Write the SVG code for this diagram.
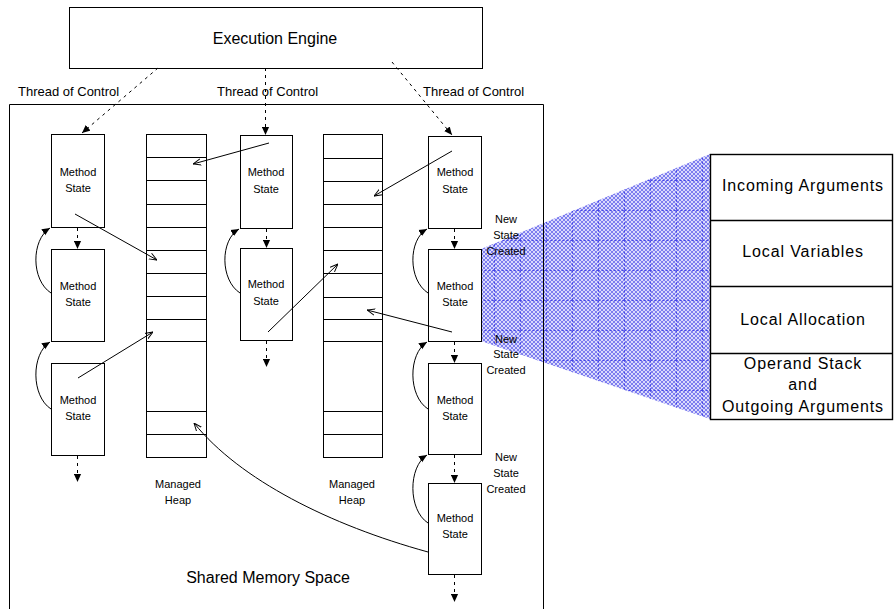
<svg xmlns="http://www.w3.org/2000/svg" width="894" height="609" viewBox="0 0 894 609">
<style>
.box{fill:#fff;stroke:#000;stroke-width:1}
.frame{fill:none;stroke:#000;stroke-width:1}
.t{font-family:"Liberation Sans",Arial,sans-serif;fill:#000}
.s11{font-size:11px}
.s13{font-size:13px}
.s16{font-size:16px}
.big{font-size:16px;letter-spacing:0.9px}
.dash{fill:none;stroke:#000;stroke-width:1;stroke-dasharray:3,4;marker-end:url(#fa)}
.solid{fill:none;stroke:#000;stroke-width:1;marker-end:url(#oa)}
.curve{fill:none;stroke:#000;stroke-width:1;marker-end:url(#fa)}
</style>
<defs>
<marker id="fa" viewBox="0 0 10 10" refX="10" refY="5" markerWidth="8" markerHeight="8" markerUnits="userSpaceOnUse" orient="auto"><path d="M0,0.5 L10,5 L0,9.5 z" fill="#000"/></marker>
<marker id="oa" viewBox="0 0 10 10" refX="10" refY="5" markerWidth="8" markerHeight="8" markerUnits="userSpaceOnUse" orient="auto"><path d="M0,1 L10,5 L0,9" fill="none" stroke="#000" stroke-width="1.2"/></marker>
<pattern id="hatch" width="4" height="4" patternUnits="userSpaceOnUse"><rect width="4" height="4" fill="#dadafc"/><path d="M0,0 L4,4 M4,0 L0,4" stroke="#4a4ae8" stroke-width="0.65"/></pattern>
<pattern id="grid" width="26" height="30" patternUnits="userSpaceOnUse"><path d="M0,0.5 H26 M0.5,0 V30" stroke="#1e1ee0" stroke-width="1" stroke-dasharray="2,2" fill="none"/></pattern>
</defs>
<rect width="894" height="609" fill="#fff"/>

<g id="zoom-wedge">
<polygon points="481,249 710,154 710,419 481,341" fill="url(#hatch)"/>
<polygon points="481,249 710,154 710,419 481,341" fill="url(#grid)" opacity="0.6"/>
</g>

<g id="shared-memory">
<path class="frame" d="M9.5,612 V104.5 H543.5 V612"/>
<text class="t s16" x="268" y="583" text-anchor="middle">Shared Memory Space</text>
</g>

<g id="execution-engine">
<rect class="box" x="69.5" y="7.5" width="413" height="61"/>
<text class="t s16" x="275" y="44" text-anchor="middle">Execution Engine</text>
</g>

<g id="thread-labels">
<text class="t s13" x="18" y="96">Thread of Control</text>
<text class="t s13" x="217" y="96">Thread of Control</text>
<text class="t s13" x="423" y="96">Thread of Control</text>
</g>

<g id="ms-l1"><rect class="box" x="51.5" y="134.5" width="53" height="93"/><text class="t s11" text-anchor="middle" x="78" y="176">Method</text><text class="t s11" text-anchor="middle" x="78" y="192">State</text></g>
<g id="ms-l2"><rect class="box" x="51.5" y="249.5" width="53" height="92"/><text class="t s11" text-anchor="middle" x="78" y="290">Method</text><text class="t s11" text-anchor="middle" x="78" y="306">State</text></g>
<g id="ms-l3"><rect class="box" x="51.5" y="363.5" width="53" height="92"/><text class="t s11" text-anchor="middle" x="78" y="404">Method</text><text class="t s11" text-anchor="middle" x="78" y="420">State</text></g>

<g id="ms-m1"><rect class="box" x="240.5" y="135.5" width="52" height="93"/><text class="t s11" text-anchor="middle" x="266" y="176">Method</text><text class="t s11" text-anchor="middle" x="266" y="193">State</text></g>
<g id="ms-m2"><rect class="box" x="240.5" y="248.5" width="52" height="92"/><text class="t s11" text-anchor="middle" x="266" y="288">Method</text><text class="t s11" text-anchor="middle" x="266" y="305">State</text></g>

<g id="ms-r1"><rect class="box" x="428.5" y="136.5" width="53" height="92"/><text class="t s11" text-anchor="middle" x="455" y="176">Method</text><text class="t s11" text-anchor="middle" x="455" y="193">State</text></g>
<g id="ms-r2"><rect class="box" x="428.5" y="249.5" width="53" height="92"/><text class="t s11" text-anchor="middle" x="455" y="290">Method</text><text class="t s11" text-anchor="middle" x="455" y="306">State</text></g>
<g id="ms-r3"><rect class="box" x="428.5" y="363.5" width="53" height="91"/><text class="t s11" text-anchor="middle" x="455" y="404">Method</text><text class="t s11" text-anchor="middle" x="455" y="420">State</text></g>
<g id="ms-r4"><rect class="box" x="428.5" y="483.5" width="53" height="91"/><text class="t s11" text-anchor="middle" x="455" y="522">Method</text><text class="t s11" text-anchor="middle" x="455" y="538">State</text></g>

<g id="heap-1">
<rect class="box" x="146.5" y="134.5" width="60" height="323"/>
<path class="frame" d="M146,157.5 H207 M146,180.5 H207 M146,204.5 H207 M146,227.5 H207 M146,250.5 H207 M146,273.5 H207 M146,296.5 H207 M146,319.5 H207 M146,341.5 H207 M146,411.5 H207 M146,434.5 H207"/>
<text class="t s11" text-anchor="middle" x="178" y="488">Managed</text>
<text class="t s11" text-anchor="middle" x="178" y="504">Heap</text>
</g>

<g id="heap-2">
<rect class="box" x="323.5" y="134.5" width="59" height="323"/>
<path class="frame" d="M323,158.5 H383 M323,181.5 H383 M323,204.5 H383 M323,227.5 H383 M323,250.5 H383 M323,273.5 H383 M323,297.5 H383 M323,319.5 H383 M323,341.5 H383 M323,411.5 H383 M323,434.5 H383"/>
<text class="t s11" text-anchor="middle" x="352" y="488">Managed</text>
<text class="t s11" text-anchor="middle" x="352" y="504">Heap</text>
</g>

<g id="new-state-labels">
<text class="t s11" text-anchor="middle" x="506"><tspan x="506" y="223">New</tspan><tspan x="506" y="239">State</tspan><tspan x="506" y="255">Created</tspan></text>
<text class="t s11" text-anchor="middle" x="506"><tspan x="506" y="343">New</tspan><tspan x="506" y="358">State</tspan><tspan x="506" y="374">Created</tspan></text>
<text class="t s11" text-anchor="middle" x="506"><tspan x="506" y="461">New</tspan><tspan x="506" y="477">State</tspan><tspan x="506" y="493">Created</tspan></text>
</g>

<g id="frame-table">
<rect x="710.5" y="154.5" width="182" height="265" fill="#fff" stroke="#000" stroke-width="1.4"/>
<path d="M710,220.5 H893 M710,286.5 H893 M710,353.5 H893" stroke="#000" stroke-width="1.4" fill="none"/>
<text class="t big" text-anchor="middle" x="803" y="191">Incoming Arguments</text>
<text class="t big" text-anchor="middle" x="803" y="257">Local Variables</text>
<text class="t big" text-anchor="middle" x="803" y="325">Local Allocation</text>
<text class="t big" text-anchor="middle" x="803" y="369">Operand Stack</text>
<text class="t big" text-anchor="middle" x="803" y="390">and</text>
<text class="t big" text-anchor="middle" x="803" y="412">Outgoing Arguments</text>
</g>

<g id="connectors">
<path class="dash" d="M158,68 L82,133"/>
<path class="dash" d="M265.5,68 L265.5,135"/>
<path class="dash" d="M392,62 L452,135"/>

<path class="dash" d="M77.5,228 V249"/>
<path class="dash" d="M77.5,456 V482"/>
<path class="dash" d="M266.5,229 V248"/>
<path class="dash" d="M266.5,341 V367"/>
<path class="dash" d="M454.5,229 V249"/>
<path class="dash" d="M454.5,342 V363"/>
<path class="dash" d="M454.5,455 V483"/>
<path class="dash" d="M454.5,575 V602"/>

<path class="curve" d="M51,293 C31,280 31,240 50,228"/>
<path class="curve" d="M51,409 C31,396 31,354 50,342"/>
<path class="curve" d="M240,293 C220,280 220,240 239,229"/>
<path class="curve" d="M428,293 C408,280 408,240 427,229"/>
<path class="curve" d="M428,409 C408,396 408,354 427,342"/>
<path class="curve" d="M428,523 C408,510 408,467 427,455"/>

<path class="solid" d="M75,214 L157,260"/>
<path class="solid" d="M78,378 L153,332"/>
<path class="solid" d="M269,143 L193,164"/>
<path class="solid" d="M268,332 L338,264"/>
<path class="solid" d="M452,151 L374,196"/>
<path class="solid" d="M452,332 L367,310"/>
<path class="solid" d="M428,552 C330,525 240,480 194,423"/>
</g>
</svg>
